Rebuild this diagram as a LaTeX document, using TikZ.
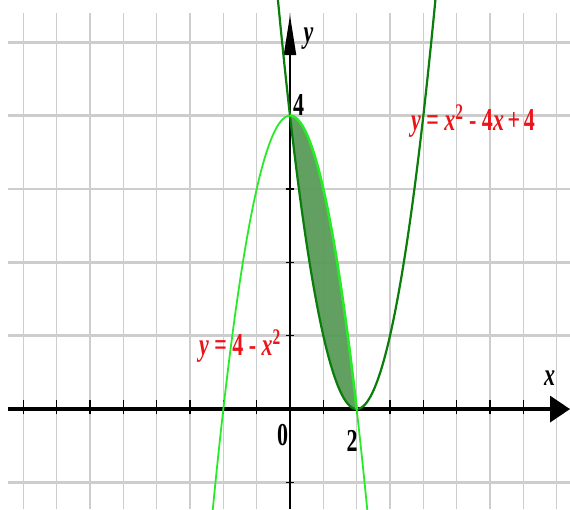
\documentclass[tikz,border=0pt]{standalone}
\usepackage{fontspec}
\setmainfont{Liberation Serif}
\usepackage{tikz}
\usetikzlibrary{arrows.meta}
\definecolor{gridgray}{RGB}{205,205,205}
\definecolor{lightcurve}{RGB}{40,235,40}
\definecolor{darkcurve}{RGB}{10,125,10}
\definecolor{areafill}{RGB}{88,155,88}
\definecolor{lblred}{RGB}{235,20,25}
\newcommand{\tall}[1]{\scalebox{1}[1.45]{#1}}
\newcommand{\vx}{\textit{x}}
\newcommand{\vy}{\textit{y}}

\begin{document}
\begin{tikzpicture}[
    x=33.33pt, y=73.33pt,
    vgrid/.style={gridgray, line width=1.4pt},
    hgrid/.style={gridgray, line width=2.6pt},
    axis/.style={black, line width=3.5pt},
    tick/.style={black, line width=1.3pt},
    lbl/.style={font=\fontsize{22}{24}\selectfont\bfseries, inner sep=0pt},
    redlbl/.style={lbl, text=lblred},
    font=\bfseries
]
\useasboundingbox (-8.7,-1.3636) rectangle (8.4,5.578);
\clip (-8.7,-1.3636) rectangle (8.4,5.578);

% grid
\foreach \i in {-8,...,8}
  \draw[vgrid] (\i,-1.3636) -- (\i,5.4);
\foreach \j in {-1,...,5}
  \draw[hgrid] (-8.46,\j) -- (8.4,\j);

% axes
\draw[axis, -{Triangle[length=20pt,width=26pt]}] (-8.46,0) -- (8.4,0);
\draw[axis, line width=2pt, -{Triangle[length=40pt,width=12pt]}] (0,-1.3636) -- (0,5.373);
\foreach \i in {-8,...,7}
  \draw[tick] (\i,-0.07) -- (\i,0.13);
\foreach \j in {-1,1,2,3}
  \draw[tick] (-0.13,\j) -- (0.13,\j);

% area between the curves
\fill[areafill, opacity=0.95] plot[domain=0:2, samples=60] (\x,{4-\x*\x})
  -- plot[domain=2:0, samples=60] (\x,{(\x-2)*(\x-2)}) -- cycle;

% curves
\draw[darkcurve, line width=2.2pt] plot[domain=-0.4:4.4, samples=120] (\x,{(\x-2)*(\x-2)});
\draw[lightcurve, line width=1.8pt] plot[domain=-2.45:2.45, samples=120] (\x,{4-\x*\x});
\draw[lightcurve, line width=2.6pt] plot[domain=0:2, samples=60] (\x,{4-\x*\x});

% labels
\node[redlbl] (lblpar) at (5.49,3.93) {\tall{\vy\ = \vx\textsuperscript{2} - 4\vx\,+\,4}};
\node[redlbl] (lblcap) at (-1.5,0.86) {\tall{\vy\ = 4 - \vx\textsuperscript{2}}};
\node[lbl] (lblfour) at (0.255,4.15) {\tall{4}};
\node[lbl] (lblzero) at (-0.225,-0.36) {\tall{0}};
\node[lbl] (lbltwo) at (1.86,-0.44) {\tall{2}};
\node[lbl] (lblx) at (7.79,0.42) {\tall{\vx}};
\node[lbl] (lbly) at (0.555,5.05) {\tall{\vy}};
\end{tikzpicture}
\end{document}
